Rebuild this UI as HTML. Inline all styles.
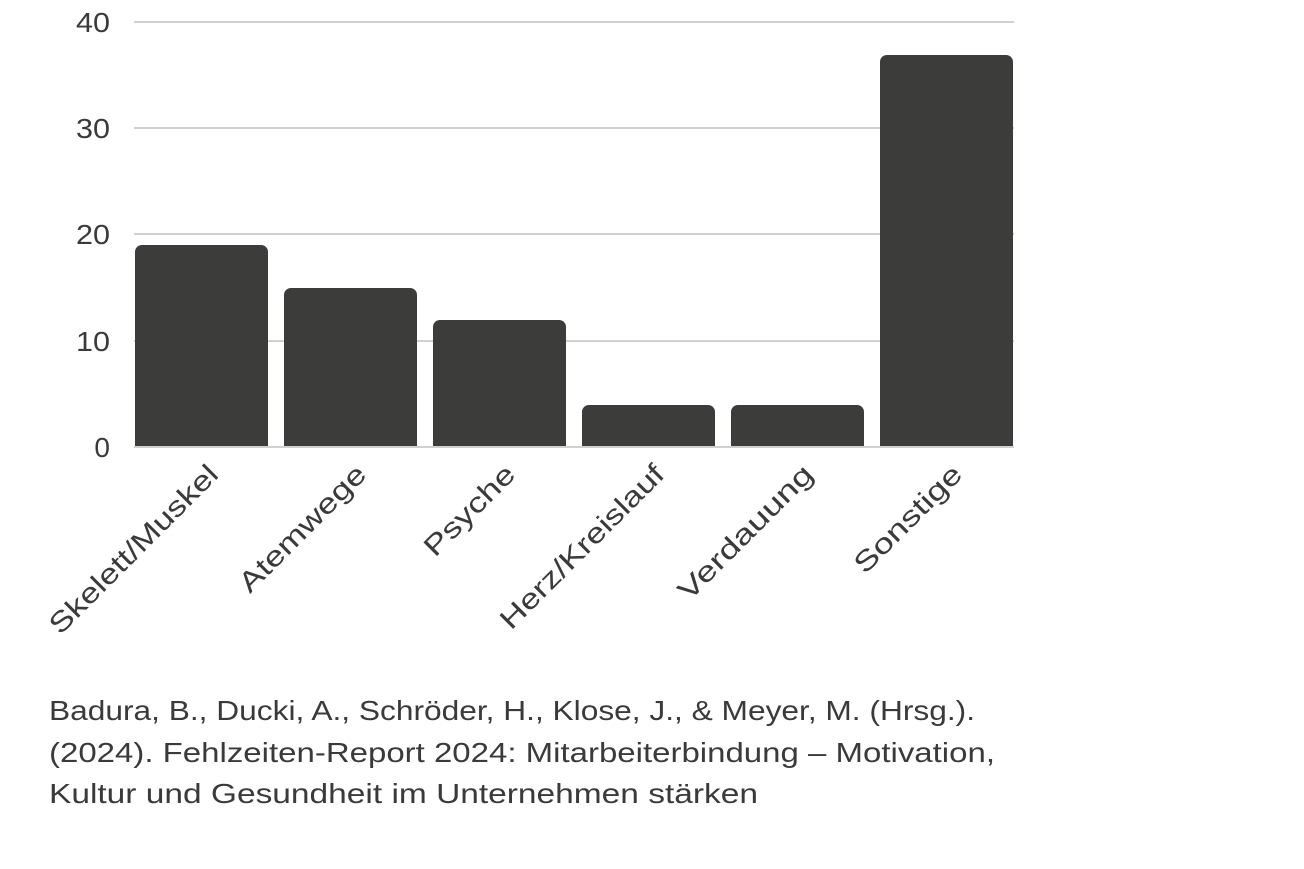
<!DOCTYPE html>
<html><head><meta charset="utf-8"><style>
html,body{margin:0;padding:0;background:#fff;}
svg{display:block;}
text{font-family:"Liberation Sans","DejaVu Sans",sans-serif;fill:#3a3a3a;}
</style></head><body>
<svg width="1304" height="869" viewBox="0 0 1304 869" xmlns="http://www.w3.org/2000/svg">
<g stroke="#d0d0d0" stroke-width="2">
<line x1="134" y1="22" x2="1014" y2="22"/>
<line x1="134" y1="128" x2="1014" y2="128"/>
<line x1="134" y1="234" x2="1014" y2="234"/>
<line x1="134" y1="341" x2="1014" y2="341"/>
</g>
<g font-size="28" text-anchor="end">
<text x="110" y="32" textLength="34" lengthAdjust="spacingAndGlyphs">40</text>
<text x="110" y="138" textLength="34" lengthAdjust="spacingAndGlyphs">30</text>
<text x="110" y="244" textLength="34" lengthAdjust="spacingAndGlyphs">20</text>
<text x="110" y="351" textLength="34" lengthAdjust="spacingAndGlyphs">10</text>
<text x="110" y="457">0</text>
</g>
<g fill="#3c3c3b">
<path d="M135 447V252a7 7 0 0 1 7-7h119a7 7 0 0 1 7 7V447Z"/>
<path d="M284 447V295a7 7 0 0 1 7-7h119a7 7 0 0 1 7 7V447Z"/>
<path d="M433 447V327a7 7 0 0 1 7-7h119a7 7 0 0 1 7 7V447Z"/>
<path d="M582 447V412a7 7 0 0 1 7-7h119a7 7 0 0 1 7 7V447Z"/>
<path d="M731 447V412a7 7 0 0 1 7-7h119a7 7 0 0 1 7 7V447Z"/>
<path d="M880 447V62a7 7 0 0 1 7-7h119a7 7 0 0 1 7 7V447Z"/>
</g>
<line x1="134" y1="447" x2="1014" y2="447" stroke="#d0d0d0" stroke-width="2"/>
<g font-size="28" text-anchor="end">
<text transform="translate(220,476) rotate(-45)" textLength="226" lengthAdjust="spacingAndGlyphs">Skelett/Muskel</text>
<text transform="translate(368,476) rotate(-45)" textLength="167" lengthAdjust="spacingAndGlyphs">Atemwege</text>
<text transform="translate(517,476) rotate(-45)" textLength="116" lengthAdjust="spacingAndGlyphs">Psyche</text>
<text transform="translate(666,476) rotate(-45)" textLength="219" lengthAdjust="spacingAndGlyphs">Herz/Kreislauf</text>
<text transform="translate(815,476) rotate(-45)" textLength="178" lengthAdjust="spacingAndGlyphs">Verdauung</text>
<text transform="translate(964,476) rotate(-45)" textLength="140" lengthAdjust="spacingAndGlyphs">Sonstige</text>
</g>
<g font-size="28">
<text x="49" y="720" textLength="926" lengthAdjust="spacingAndGlyphs">Badura, B., Ducki, A., Schröder, H., Klose, J., &amp; Meyer, M. (Hrsg.).</text>
<text x="49" y="762" textLength="946" lengthAdjust="spacingAndGlyphs">(2024). Fehlzeiten-Report 2024: Mitarbeiterbindung – Motivation,</text>
<text x="49" y="803" textLength="709" lengthAdjust="spacingAndGlyphs">Kultur und Gesundheit im Unternehmen stärken</text>
</g>
</svg>
</body></html>
